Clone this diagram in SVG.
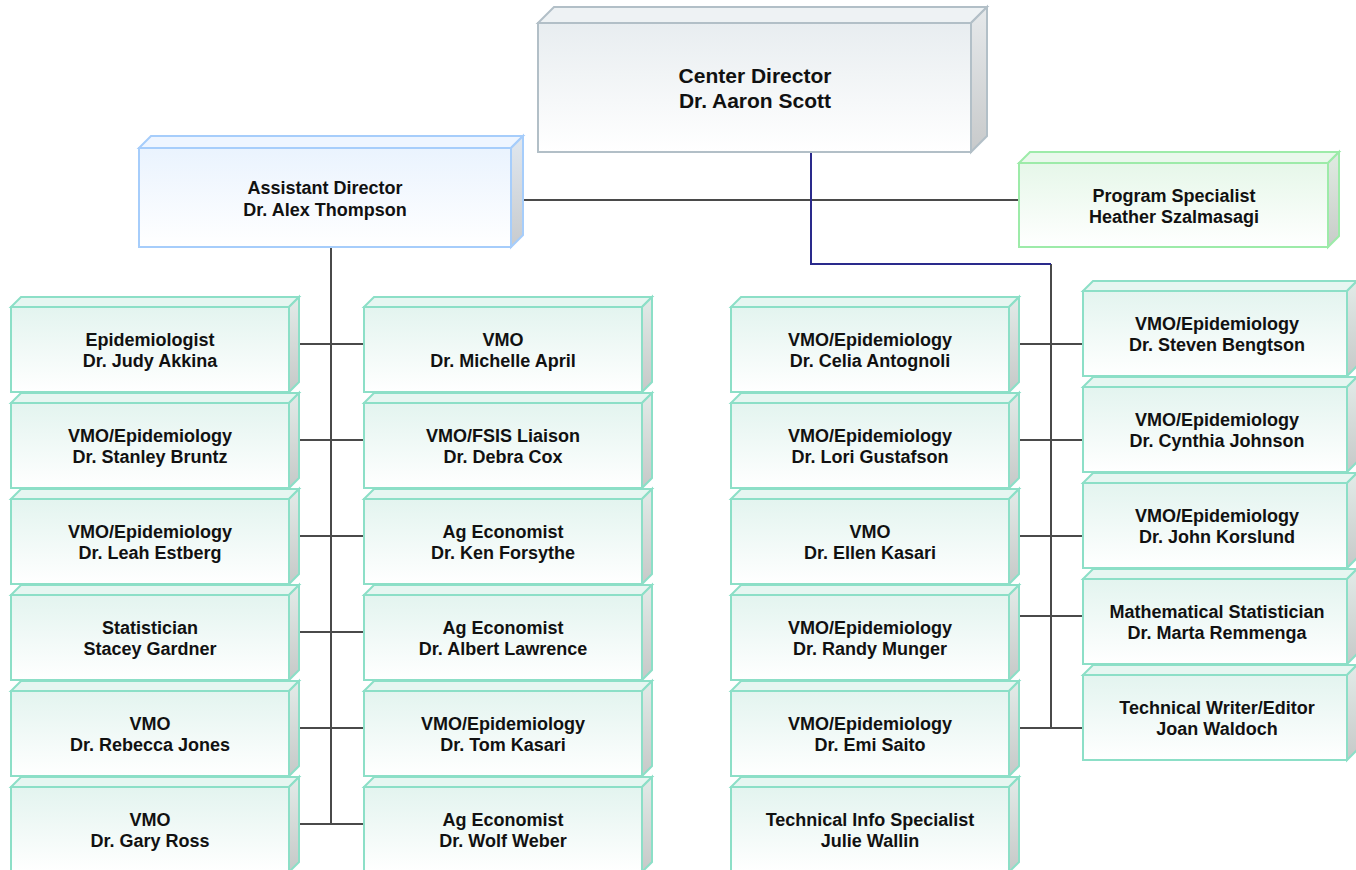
<svg xmlns="http://www.w3.org/2000/svg" xmlns:xlink="http://www.w3.org/1999/xlink" width="1356" height="870" viewBox="0 0 1356 870">
<style>
text{font-family:"Liberation Sans",Arial,sans-serif;font-weight:bold;font-size:18px;fill:#111;text-anchor:middle}
.big{font-size:21px}
.conn{fill:none;stroke:#4a4a4a;stroke-width:2}
.blue{fill:none;stroke:#2a2a8c;stroke-width:2}
.teal{stroke:#8cdfc7;stroke-width:2;stroke-linejoin:miter}
.tealTop{fill:#e6f6f1}
.tealFront{fill:url(#gTeal)}
.tealSide{fill:url(#gSide)}
</style>
<defs>
<linearGradient id="gTeal" x1="0" y1="0" x2="0" y2="1"><stop offset="0" stop-color="#e3f4ef"/><stop offset="1" stop-color="#ffffff"/></linearGradient>
<linearGradient id="gSide" x1="0" y1="0" x2="0" y2="1"><stop offset="0" stop-color="#e2ebe8"/><stop offset="1" stop-color="#c6c9c8"/></linearGradient>
<linearGradient id="gGray" x1="0" y1="0" x2="0" y2="1"><stop offset="0" stop-color="#e8edf0"/><stop offset="1" stop-color="#ffffff"/></linearGradient>
<linearGradient id="gGraySide" x1="0" y1="0" x2="0" y2="1"><stop offset="0" stop-color="#e6e9eb"/><stop offset="1" stop-color="#c8cacb"/></linearGradient>
<linearGradient id="gBlue" x1="0" y1="0" x2="0" y2="1"><stop offset="0" stop-color="#eaf3fe"/><stop offset="1" stop-color="#ffffff"/></linearGradient>
<linearGradient id="gBlueSide" x1="0" y1="0" x2="0" y2="1"><stop offset="0" stop-color="#e0e7ef"/><stop offset="1" stop-color="#c8cbce"/></linearGradient>
<linearGradient id="gGreen" x1="0" y1="0" x2="0" y2="1"><stop offset="0" stop-color="#e6f7e9"/><stop offset="1" stop-color="#ffffff"/></linearGradient>
<linearGradient id="gGreenSide" x1="0" y1="0" x2="0" y2="1"><stop offset="0" stop-color="#e0ebe2"/><stop offset="1" stop-color="#c8ccc9"/></linearGradient>
<g id="boxA" class="teal">
<polygon class="tealTop" points="0,0 10,-10 288,-10 278,0"/>
<polygon class="tealSide" points="278,0 288,-10 288,75 278,85"/>
<rect class="tealFront" x="0" y="0" width="278" height="85"/>
</g>
<g id="boxB" class="teal">
<polygon class="tealTop" points="0,0 10,-10 274,-10 264,0"/>
<polygon class="tealSide" points="264,0 274,-10 274,75 264,85"/>
<rect class="tealFront" x="0" y="0" width="264" height="85"/>
</g>
</defs>
<rect width="1356" height="870" fill="#ffffff"/>

<g id="connectors">
<path class="conn" d="M522,200 H1019"/>
<path class="conn" d="M331,247 V824 M299,344 H364 M299,440 H364 M299,536 H364 M299,632 H364 M299,728 H364 M299,824 H364"/>
<path class="conn" d="M1051,264 V728 M1019,344 H1083 M1019,440 H1083 M1019,536 H1083 M1019,616 H1083 M1019,728 H1083"/>
<path class="blue" d="M811,152 V264 H1051"/>
</g>

<g id="center-director" stroke="#b2bfc7" stroke-width="2">
<polygon points="538,23 554,7 987,7 971,23" fill="#eef2f4"/>
<polygon points="971,23 987,7 987,136 971,152" fill="url(#gGraySide)"/>
<rect x="538" y="23" width="433" height="129" fill="url(#gGray)"/>
<text class="big" x="755" y="83" stroke="none">Center Director</text>
<text class="big" x="755" y="108" stroke="none">Dr. Aaron Scott</text>
</g>

<g id="assistant-director" stroke="#a6cdfb" stroke-width="2">
<polygon points="139,148 151,136 523,136 511,148" fill="#eef5ff"/>
<polygon points="511,148 523,136 523,235 511,247" fill="url(#gBlueSide)"/>
<rect x="139" y="148" width="372" height="99" fill="url(#gBlue)"/>
<text x="325" y="194" stroke="none">Assistant Director</text>
<text x="325" y="216" stroke="none">Dr. Alex Thompson</text>
</g>

<g id="program-specialist" stroke="#9deba9" stroke-width="2">
<polygon points="1019,163 1030,152 1339,152 1328,163" fill="#eaf8ec"/>
<polygon points="1328,163 1339,152 1339,236 1328,247" fill="url(#gGreenSide)"/>
<rect x="1019" y="163" width="309" height="84" fill="url(#gGreen)"/>
<text x="1174" y="202" stroke="none">Program Specialist</text>
<text x="1174" y="223" stroke="none">Heather Szalmasagi</text>
</g>

<g id="n-akkina" transform="translate(11,307)"><use href="#boxA"/><text x="139" y="39">Epidemiologist</text><text x="139" y="60">Dr. Judy Akkina</text></g>
<g id="n-bruntz" transform="translate(11,403)"><use href="#boxA"/><text x="139" y="39">VMO/Epidemiology</text><text x="139" y="60">Dr. Stanley Bruntz</text></g>
<g id="n-estberg" transform="translate(11,499)"><use href="#boxA"/><text x="139" y="39">VMO/Epidemiology</text><text x="139" y="60">Dr. Leah Estberg</text></g>
<g id="n-gardner" transform="translate(11,595)"><use href="#boxA"/><text x="139" y="39">Statistician</text><text x="139" y="60">Stacey Gardner</text></g>
<g id="n-jones" transform="translate(11,691)"><use href="#boxA"/><text x="139" y="39">VMO</text><text x="139" y="60">Dr. Rebecca Jones</text></g>
<g id="n-ross" transform="translate(11,787)"><use href="#boxA"/><text x="139" y="39">VMO</text><text x="139" y="60">Dr. Gary Ross</text></g>

<g id="n-april" transform="translate(364,307)"><use href="#boxA"/><text x="139" y="39">VMO</text><text x="139" y="60">Dr. Michelle April</text></g>
<g id="n-cox" transform="translate(364,403)"><use href="#boxA"/><text x="139" y="39">VMO/FSIS Liaison</text><text x="139" y="60">Dr. Debra Cox</text></g>
<g id="n-forsythe" transform="translate(364,499)"><use href="#boxA"/><text x="139" y="39">Ag Economist</text><text x="139" y="60">Dr. Ken Forsythe</text></g>
<g id="n-lawrence" transform="translate(364,595)"><use href="#boxA"/><text x="139" y="39">Ag Economist</text><text x="139" y="60">Dr. Albert Lawrence</text></g>
<g id="n-tkasari" transform="translate(364,691)"><use href="#boxA"/><text x="139" y="39">VMO/Epidemiology</text><text x="139" y="60">Dr. Tom Kasari</text></g>
<g id="n-weber" transform="translate(364,787)"><use href="#boxA"/><text x="139" y="39">Ag Economist</text><text x="139" y="60">Dr. Wolf Weber</text></g>

<g id="n-antognoli" transform="translate(731,307)"><use href="#boxA"/><text x="139" y="39">VMO/Epidemiology</text><text x="139" y="60">Dr. Celia Antognoli</text></g>
<g id="n-gustafson" transform="translate(731,403)"><use href="#boxA"/><text x="139" y="39">VMO/Epidemiology</text><text x="139" y="60">Dr. Lori Gustafson</text></g>
<g id="n-ekasari" transform="translate(731,499)"><use href="#boxA"/><text x="139" y="39">VMO</text><text x="139" y="60">Dr. Ellen Kasari</text></g>
<g id="n-munger" transform="translate(731,595)"><use href="#boxA"/><text x="139" y="39">VMO/Epidemiology</text><text x="139" y="60">Dr. Randy Munger</text></g>
<g id="n-saito" transform="translate(731,691)"><use href="#boxA"/><text x="139" y="39">VMO/Epidemiology</text><text x="139" y="60">Dr. Emi Saito</text></g>
<g id="n-wallin" transform="translate(731,787)"><use href="#boxA"/><text x="139" y="39">Technical Info Specialist</text><text x="139" y="60">Julie Wallin</text></g>

<g id="n-bengtson" transform="translate(1083,291)"><use href="#boxB"/><text x="134" y="39">VMO/Epidemiology</text><text x="134" y="60">Dr. Steven Bengtson</text></g>
<g id="n-johnson" transform="translate(1083,387)"><use href="#boxB"/><text x="134" y="39">VMO/Epidemiology</text><text x="134" y="60">Dr. Cynthia Johnson</text></g>
<g id="n-korslund" transform="translate(1083,483)"><use href="#boxB"/><text x="134" y="39">VMO/Epidemiology</text><text x="134" y="60">Dr. John Korslund</text></g>
<g id="n-remmenga" transform="translate(1083,579)"><use href="#boxB"/><text x="134" y="39">Mathematical Statistician</text><text x="134" y="60">Dr. Marta Remmenga</text></g>
<g id="n-waldoch" transform="translate(1083,675)"><use href="#boxB"/><text x="134" y="39">Technical Writer/Editor</text><text x="134" y="60">Joan Waldoch</text></g>
</svg>
